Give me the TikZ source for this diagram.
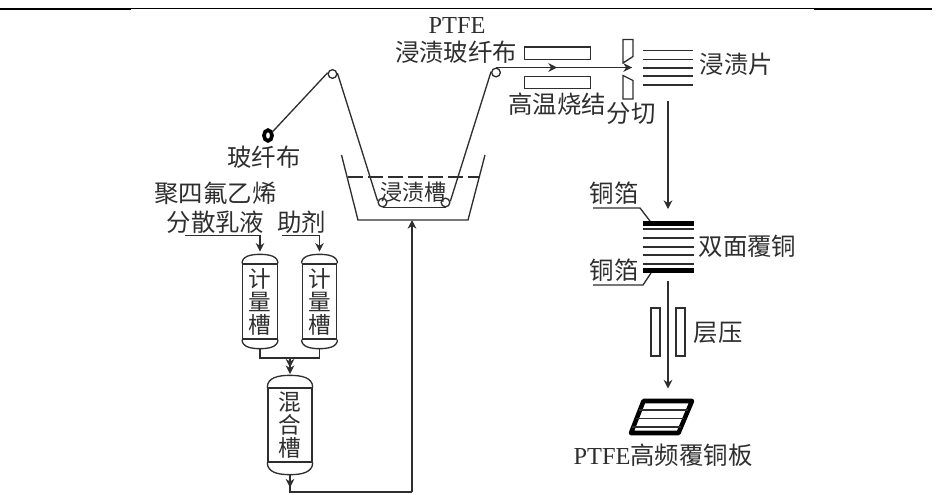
\documentclass[tikz,border=0pt]{standalone}
\usepackage{fontspec}
\setmainfont{Liberation Serif}
\newfontfamily\cjk{Noto Sans CJK SC}
\usepackage{xcolor}
\usetikzlibrary{positioning,shapes.geometric,arrows.meta,calc}

% dished ends of a vessel: node name, end height, control length
\newcommand{\heads}[3]{%
  \coordinate (#1t) at ($(#1.north)+(0,-#2)$);
  \coordinate (#1b) at ($(#1.south)+(0,#2)$);
  \draw[ln] (#1.north west) .. controls +(0,{-0.8*#2}) and +(-#3,0) .. (#1t) .. controls +(#3,0) and +(0,{-0.8*#2}) .. (#1.north east);
  \draw[ln] (#1.south west) .. controls +(0,{0.8*#2}) and +(-#3,0) .. (#1b) .. controls +(#3,0) and +(0,{0.8*#2}) .. (#1.south east);}

\begin{document}
\begin{tikzpicture}[
  x=0.75pt,y=-0.75pt,
  ln/.style={line width=1pt,draw=black!82},
  arr/.style={ln,-{Stealth[length=6.5pt,width=6.5pt]}},
  lab/.style={inner sep=0pt,text=black!82,align=center,font=\cjk\fontsize{18.3}{20}\selectfont},
  roller/.style={circle,ln,fill=white,inner sep=0pt,minimum size=6.5pt},
  vessel/.style={rectangle,ln,inner sep=0pt,minimum width=#1,align=center,text=black!82,font=\cjk\fontsize{17}{17.25}\selectfont},
  plate/.style={rectangle,ln,inner sep=0pt,fill=white},
  sheet/.style={line width=1pt,draw=black!82},
  foil/.style={line width=3.75pt,draw=black}]
\useasboundingbox (0,0) rectangle (940,494);
% page rule
\draw[line width=0.75pt,black] (131,8.2)--(814,8.2);
\draw[line width=1.5pt] (0,9)--(131,9); \draw[line width=1.5pt] (814,9)--(932,9);
% web path
\node[ellipse,draw=black,line width=2.8pt,fill=white,inner sep=0pt,minimum width=6pt,minimum height=8pt] (roll) at (268,135.5) {};
\node[roller] (r1) at (332.5,74) {};
\node[roller] (r2) at (382.5,202.5) {};
\node[roller] (r3) at (445.5,202.5) {};
\node[roller] (r4) at (496,72.5) {};
\coordinate (cut) at (632,67.5);
\coordinate (mid) at (557,67.5);
\draw[ln] (roll.40)--(r1.165);
\draw[ln] (r1.10)--(r2.165);
\draw[ln] (r2.south)--(r3.south);
\draw[ln] (r3.15)--(r4.170);
\draw[ln] (r4.north)--(cut);
\draw[arr] (r4.north)--(mid);
\draw[arr] (mid)--(cut);
% impregnation tank
\coordinate (t1) at (341.5,155); \coordinate (t2) at (358,220);
\coordinate (t3) at (468,220); \coordinate (t4) at (485,155);
\draw[ln] (t1)--(t2)--(t3)--(t4);
\draw[ln,dash pattern=on 11pt off 4pt] (348,177)--(480,177);
\node[lab,font=\cjk\fontsize{16.5}{17}\selectfont] (bath) at (413.5,192) {浸渍槽};
% labels, upper left
\node[lab] (cloth) at (264,157) {玻纤布};
\node[lab] (ptfe) at (457,26) {\rmfamily PTFE};
\node[lab] (ptfecloth) at (456,52) {浸渍玻纤布};
\node[lab] (ptfeliq) at (215.5,193) {聚四氟乙烯};
\node[lab] (ptfeliq2) at (215.5,222) {分散乳液};
\node[lab] (aid) at (301.5,222) {助剂};
% metering and mixing
\node[vessel=25.9pt,minimum height=56.25pt] (m1) at (260,301.5) {计\\量\\槽};
\node[vessel=25.9pt,minimum height=56.25pt] (m2) at (319.5,301.5) {计\\量\\槽};
\node[vessel=33pt,minimum height=55.5pt] (mix) at (290,425) {混\\合\\槽};
\heads{m1}{9}{9}
\heads{m2}{9}{9}
\heads{mix}{12}{12}
\coordinate (in1) at (185,235.5); \coordinate (in1b) at (m1t|-in1);
\coordinate (in2) at (281.5,235.5); \coordinate (in2b) at (m2t|-in2);
\draw[arr,shorten >=2pt] (in1)--(in1b)--(m1t);
\draw[arr,shorten >=2pt] (in2)--(in2b)--(m2t);
\coordinate (join) at (290,358);
\draw[ln] (m1b)--(m1b|-join)--(m2b|-join)--(m2b);
\draw[arr] (join)--(290,367.5);
\draw[arr,shorten >=1pt] (290,365)--(mixt);
\coordinate (drain) at (290,492); \coordinate (feed) at (412,492);
\draw[arr] (mixb)--(290,487.5);
\draw[ln] (290,486)--(drain)--(feed);
\draw[arr] (feed)--(t2-|feed);
% oven and cutter
\node[plate,minimum width=49.5pt,minimum height=9.25pt] (ov1) at (557.5,53) {};
\node[plate,minimum width=49.5pt,minimum height=9.25pt] (ov2) at (557.5,82.5) {};
\draw[ln] (623,39.5)--(633,39.5)--(633,56.5)--(623,63)--cycle;
\draw[ln] (623,75.5)--(633,80.5)--(633,99)--(623,99)--cycle;
\node[lab] (sinter) at (557,104) {高温烧结};
\node[lab] (cutlab) at (631,113) {分切};
\foreach \y in {50.5,59.5,68,76,85} \draw[sheet] (643,\y)--(692.5,\y);
\node[lab] (prepreg) at (736.5,64.5) {浸渍片};
\coordinate (down1) at (668,101); \coordinate (down1b) at (668,209);
\draw[arr] (down1)--(down1b);
% double sided stack
\draw[foil] (643,223)--(694,223);
\foreach \y in {229,238,247,255,264} \draw[sheet] (643,\y)--(694,\y);
\draw[foil] (643,270)--(694,270);
\node[lab] (foilA) at (614,193.5) {铜箔};
\node[lab] (foilB) at (614,270) {铜箔};
\node[lab] (dbl) at (747.5,246) {双面覆铜};
\draw[ln] (593,208)--(640,208)--(650,221);
\draw[ln] (593,285)--(643,285)--(651,273);
% press
\node[plate,minimum width=6.75pt,minimum height=36pt] (p1) at (655.5,332) {};
\node[plate,minimum width=6.75pt,minimum height=36pt] (p2) at (680.5,332) {};
\node[lab] (press) at (718,333) {层压};
\coordinate (down2) at (668,281); \coordinate (down2b) at (668,388.5);
\draw[arr] (down2)--(down2b);
% finished board
\draw[line width=3.4pt,black,line join=round] (643.5,401)--(692,401)--(678.5,433)--(631,433)--cycle;
\foreach \y/\a/\b in {410/639/688,418.5/636/684,427/632/681} \draw[sheet] (\a,\y)--(\b,\y);
\node[lab] (board) at (663,455) {{\rmfamily PTFE}高频覆铜板};
\end{tikzpicture}
\end{document}
